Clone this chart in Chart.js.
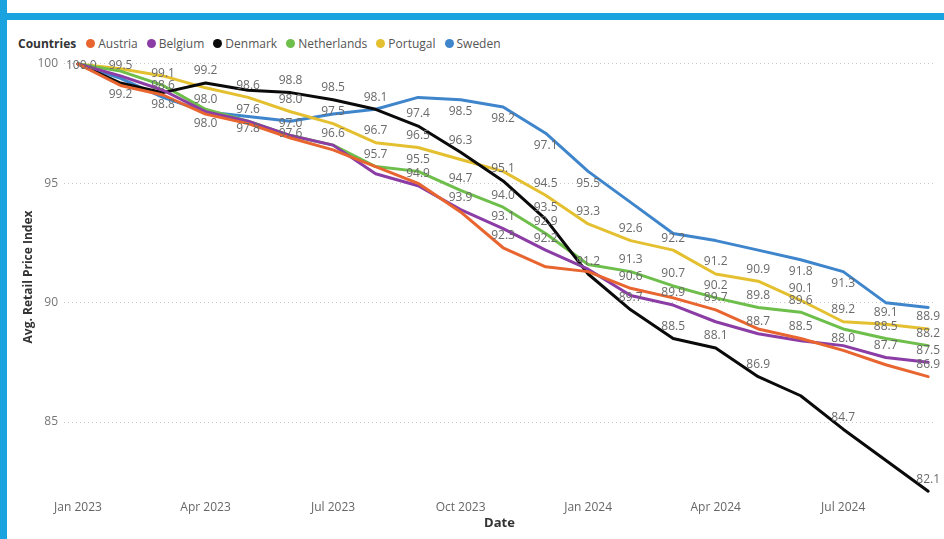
<!DOCTYPE html>
<html><head><meta charset="utf-8">
<script src="https://cdn.jsdelivr.net/npm/chart.js@4.4.1/dist/chart.umd.min.js"></script>
<style>
html,body{margin:0;padding:0;background:#fff;}
body{width:944px;height:539px;position:relative;overflow:hidden;font-family:'Segoe UI','Open Sans',sans-serif;}
#band{position:absolute;left:0;top:13px;width:944px;height:7px;background:#1aa3df;}
#strip{position:absolute;left:0;top:0;width:7px;height:539px;background:#1aa3df;}
#legend{position:absolute;left:18px;top:35px;font-size:12px;color:#555;display:flex;align-items:center;white-space:nowrap;}
#legend .t{font-weight:bold;color:#333;margin-right:10px;}
#legend .i{display:flex;align-items:center;margin-right:9px;}
#legend .d{width:9px;height:9px;border-radius:50%;margin-right:3px;}
#c{position:absolute;left:0;top:0;}
</style></head>
<body>
<div id="strip"></div><div id="band"></div>
<div id="legend"></div>
<canvas id="c" width="944" height="539"></canvas>
<script>
const months = ['Jan 2023','Feb 2023','Mar 2023','Apr 2023','May 2023','Jun 2023','Jul 2023','Aug 2023','Sep 2023','Oct 2023','Nov 2023','Dec 2023',
                'Jan 2024','Feb 2024','Mar 2024','Apr 2024','May 2024','Jun 2024','Jul 2024','Aug 2024','Sep 2024'];
const countries = ['Austria','Belgium','Denmark','Netherlands','Portugal','Sweden'];
const austria     = [100.0, 99.1, 98.7, 97.9, 97.5, 96.9, 96.4, 95.7, 95.0, 93.8, 92.3, 91.5, 91.3, 90.6, 90.2, 89.7, 88.9, 88.5, 88.0, 87.4, 86.9];
const belgium     = [100.0, 99.5, 98.9, 98.0, 97.6, 97.0, 96.6, 95.4, 94.9, 93.9, 93.1, 92.2, 91.4, 90.3, 89.9, 89.2, 88.7, 88.4, 88.2, 87.7, 87.5];
const denmark     = [100.0, 99.2, 98.8, 99.2, 98.9, 98.8, 98.5, 98.1, 97.4, 96.3, 95.1, 93.5, 91.2, 89.7, 88.5, 88.1, 86.9, 86.1, 84.7, 83.4, 82.1];
const netherlands = [100.0, 99.7, 99.1, 98.1, 97.6, 97.0, 96.6, 95.7, 95.5, 94.7, 94.0, 92.9, 91.6, 91.3, 90.7, 90.2, 89.8, 89.6, 88.9, 88.5, 88.2];
const portugal    = [100.0, 99.8, 99.5, 99.0, 98.6, 98.0, 97.5, 96.7, 96.5, 96.0, 95.5, 94.5, 93.3, 92.6, 92.2, 91.2, 90.9, 90.1, 89.2, 89.1, 88.9];
const sweden      = [100.0, 99.4, 98.6, 98.0, 97.8, 97.6, 97.9, 98.1, 98.6, 98.5, 98.2, 97.1, 95.5, 94.2, 92.9, 92.6, 92.2, 91.8, 91.3, 90.0, 89.8];
const yTicks = [85, 90, 95, 100];
const colors = ['#E8652F','#8B3DA5','#0a0a0a','#6DBE4B','#E4C030','#3E85CC'];
const seriesValues = [austria, belgium, denmark, netherlands, portugal, sweden];

// which points carry a data label (month indexes), shown above or below the point
const labelsAbove = {
  Austria: [10,13,15,17,18,20],
  Belgium: [1,3,8,9,10,11,14,16,19,20],
  Denmark: [0,3,5,6,7,8,9,10,11,12,13,14,15,16,18,20],
  Netherlands: [2,4,5,6,7,8,9,10,11,13,14,15,16,17,19,20],
  Portugal: [4,5,6,7,8,11,12,13,14,15,16,17,18,19,20],
  Sweden: [2]
};
const labelsBelow = {
  Denmark: [1,2],
  Sweden: [3,4,5,9,10,11,12,17,18]
};

// legend
const lg = document.getElementById('legend');
lg.innerHTML = '<span class="t">Countries</span>' + countries.map((c,i)=>
  '<span class="i"><span class="d" style="background:'+colors[i]+'"></span>'+c+'</span>').join('');

const labelPlugin = {
  id: 'pointLabels',
  afterDatasetsDraw(chart) {
    const ctx = chart.ctx, area = chart.chartArea;
    ctx.save();
    ctx.font = '12px "Segoe UI","Open Sans",sans-serif';
    ctx.fillStyle = '#6a6a6a';
    ctx.textAlign = 'center';
    ctx.textBaseline = 'middle';
    chart.data.datasets.forEach((ds, di) => {
      const meta = chart.getDatasetMeta(di);
      const draw = (i, dy) => {
        const p = meta.data[i];
        const txt = ds.data[i].y.toFixed(1);
        const w = ctx.measureText(txt).width;
        const x = Math.max(p.x, area.left + w/2 + 2);
        const y = Math.max(p.y + dy, area.top + 8);
        ctx.fillText(txt, x, y);
      };
      (labelsAbove[ds.label] || []).forEach(i => draw(i, -12));
      (labelsBelow[ds.label] || []).forEach(i => draw(i, 12));
    });
    ctx.restore();
  }
};

new Chart(document.getElementById('c'), {
  type: 'line',
  data: {
    datasets: countries.map((c, i) => ({
      label: c,
      data: seriesValues[i].map((v, k) => ({x: k, y: v})),
      borderColor: colors[i],
      backgroundColor: colors[i],
      borderWidth: 3,
      pointRadius: 0,
      tension: 0,
      borderJoinStyle: 'round',
      borderCapStyle: 'round'
    }))
  },
  options: {
    responsive: false,
    animation: false,
    layout: { padding: { left: 17, right: 9, top: 58, bottom: 4 } },
    plugins: { legend: { display: false }, tooltip: { enabled: false } },
    scales: {
      x: {
        type: 'linear', min: -0.33, max: 20.16,
        afterFit(s) { s.height = 39; },
        grid: { display: false, drawTicks: false },
        border: { display: false },
        ticks: {
          stepSize: 3, includeBounds: false, autoSkip: false, maxRotation: 0,
          color: '#666', font: { size: 12, family: '"Segoe UI","Open Sans",sans-serif' }, padding: 4,
          callback: (v) => (Number.isInteger(v) && v % 3 === 0 && months[v]) ? months[v] : ''
        },
        title: { display: true, text: 'Date', color: '#333', font: { size: 13, weight: 'bold', family: '"Segoe UI","Open Sans",sans-serif' } }
      },
      y: {
        min: 81.9, max: 100.25,
        afterFit(s) { s.width = 47; },
        afterBuildTicks(s) { s.ticks = yTicks.map(v => ({ value: v })); },
        grid: { color: '#c8c8c8', lineWidth: 1, drawTicks: false },
        border: { display: false, dash: [1, 3] },
        ticks: { color: '#777', font: { size: 12, family: '"Segoe UI","Open Sans",sans-serif' }, padding: 6 },
        title: { display: true, text: 'Avg. Retail Price Index', color: '#333', font: { size: 12, weight: 'bold', family: '"Segoe UI","Open Sans",sans-serif' } }
      }
    }
  },
  plugins: [labelPlugin]
});
</script>
</body></html>
